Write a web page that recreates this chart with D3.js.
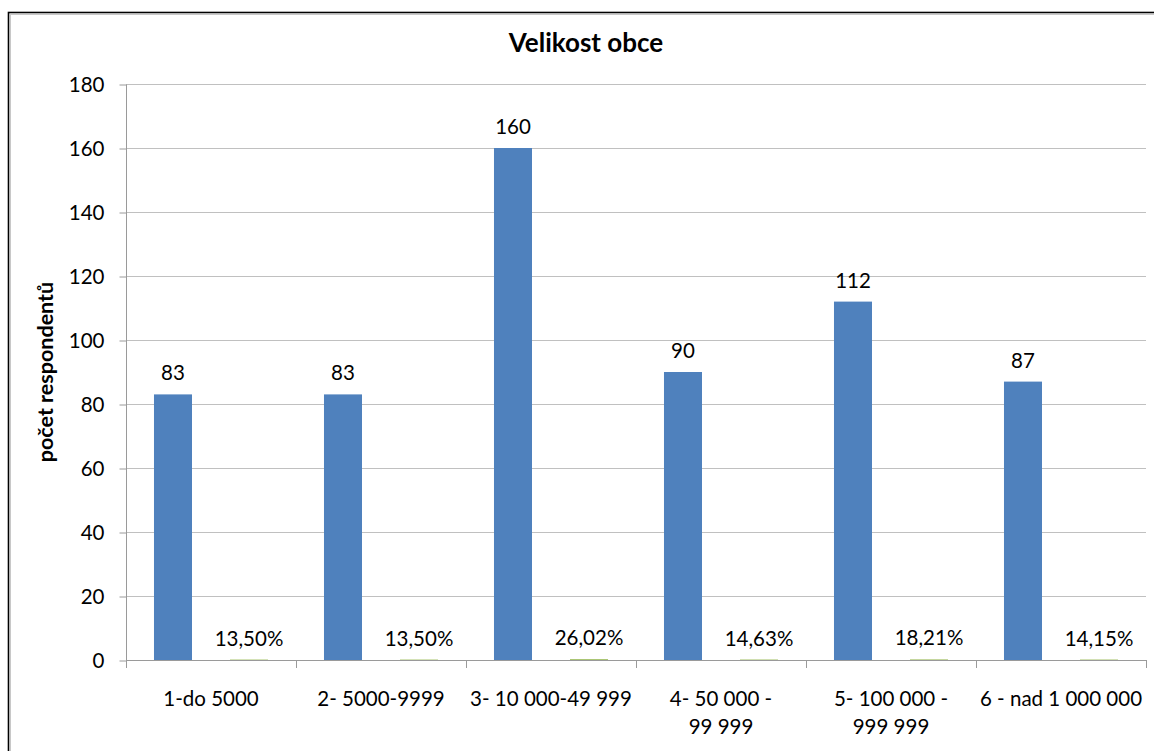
<!DOCTYPE html>
<html>
<head>
<meta charset="utf-8">
<script src="https://cdn.jsdelivr.net/npm/d3@7"></script>
<style>
  html, body { margin: 0; padding: 0; background: #fff; }
  svg { display: block; }
  text { font-family: Lato, Carlito, Calibri, "Noto Sans", sans-serif; fill: #000; }
</style>
</head>
<body>
<svg id="chart" width="1154" height="751"></svg>
<script>
const title = "Velikost obce";
const yLabel = "počet respondentů";
const categories = ["1-do 5000", "2- 5000-9999", "3- 10 000-49 999", "4- 50 000 -\n99 999", "5- 100 000 -\n999 999", "6 - nad 1 000 000"];
const counts = [83, 83, 160, 90, 112, 87];
const shares = [0.1350, 0.1350, 0.2602, 0.1463, 0.1821, 0.1415];
const yTicks = [0, 20, 40, 60, 80, 100, 120, 140, 160, 180];
const seriesKeys = ["count", "share"];

const svg = d3.select("#chart");
const plot = { left: 126, right: 1146, top: 84, bottom: 660 };
const fs = 20.5;

const x = d3.scaleBand().domain(categories).range([plot.left, plot.right]).padding(0);
const inner = d3.scaleBand().domain(seriesKeys).range([0, x.bandwidth()])
  .paddingInner(0.5).paddingOuter(0.368);
const y = d3.scaleLinear().domain([0, 180]).range([plot.bottom, plot.top]);

const locale = d3.formatLocale({ decimal: ",", thousands: " ", grouping: [3], currency: ["", " Kč"] });
const pctFmt = locale.format(".2%");

// chart border
svg.append("rect").attr("x", 8.5).attr("y", 12.5).attr("width", 1200).attr("height", 800)
  .attr("fill", "none").attr("stroke", "#000").attr("stroke-width", 1.6);
svg.append("rect").attr("x", 10.5).attr("y", 14.5).attr("width", 1200).attr("height", 800)
  .attr("fill", "none").attr("stroke", "#c8c8c8").attr("stroke-width", 1);

// gridlines
svg.append("g").selectAll("line").data(yTicks.filter(d => d > 0)).join("line")
  .attr("x1", plot.left).attr("x2", plot.right)
  .attr("y1", d => Math.round(y(d)) + 0.5).attr("y2", d => Math.round(y(d)) + 0.5)
  .attr("stroke", "#c0c0c0").attr("stroke-width", 1);

// y axis
const yAxis = svg.append("g").attr("transform", `translate(${plot.left + 0.5},0.5)`)
  .call(d3.axisLeft(y).tickValues(yTicks).tickSize(7).tickPadding(15).tickFormat(d3.format("d")));
yAxis.select(".domain").attr("stroke", "#9a9a9a").attr("d", `M0,${plot.top}V${plot.bottom}`);
yAxis.selectAll(".tick line").attr("stroke", "#9a9a9a");
yAxis.selectAll(".tick text").attr("font-size", fs).attr("font-family", "Lato, Carlito, Calibri, sans-serif").attr("fill", "#000");

// bars
const groups = svg.append("g").selectAll("g").data(categories).join("g")
  .attr("transform", d => `translate(${x(d)},0)`);
groups.append("rect")
  .attr("x", inner("count"))
  .attr("width", inner.bandwidth())
  .attr("y", (d, i) => y(counts[i]))
  .attr("height", (d, i) => y(0) - y(counts[i]))
  .attr("fill", "#4F81BD");
groups.append("rect")
  .attr("x", inner("share"))
  .attr("width", inner.bandwidth())
  .attr("y", (d, i) => y(shares[i]))
  .attr("height", (d, i) => y(0) - y(shares[i]))
  .attr("fill", "#9BBB59");

// value labels
groups.append("text")
  .attr("x", inner("count") + inner.bandwidth() / 2)
  .attr("y", (d, i) => y(counts[i]) - 14)
  .attr("text-anchor", "middle").attr("font-size", fs)
  .text((d, i) => counts[i]);
groups.append("text")
  .attr("x", inner("share") + inner.bandwidth() / 2)
  .attr("y", (d, i) => y(shares[i]) - 14)
  .attr("text-anchor", "middle").attr("font-size", fs)
  .text((d, i) => pctFmt(shares[i]));

// x axis line and ticks
const xg = svg.append("g");
xg.append("line").attr("x1", plot.left).attr("x2", plot.right)
  .attr("y1", plot.bottom + 0.5).attr("y2", plot.bottom + 0.5)
  .attr("stroke", "#9a9a9a");
const bounds = categories.map(c => x(c)).concat([x.range()[1]]);
xg.selectAll("line.tk").data(bounds).join("line").attr("class", "tk")
  .attr("x1", d => Math.round(d) + 0.5).attr("x2", d => Math.round(d) + 0.5)
  .attr("y1", plot.bottom).attr("y2", plot.bottom + 8)
  .attr("stroke", "#9a9a9a");
const lbl = xg.selectAll("text.cat").data(categories).join("text").attr("class", "cat")
  .attr("x", d => x(d) + x.bandwidth() / 2)
  .attr("y", 706)
  .attr("text-anchor", "middle").attr("font-size", fs);
lbl.selectAll("tspan").data(d => d.split("\n").map(s => ({ s, c: d }))).join("tspan")
  .attr("x", d => x(d.c) + x.bandwidth() / 2)
  .attr("dy", (d, i) => i === 0 ? 0 : 28)
  .text(d => d.s);

// title
svg.append("text").attr("x", 586).attr("y", 52).attr("text-anchor", "middle")
  .attr("font-size", 26).attr("font-weight", "bold").text(title);

// y label
svg.append("text").attr("transform", `translate(45,372) rotate(-90)`)
  .attr("dy", "0.35em").attr("text-anchor", "middle")
  .attr("font-size", 21.5).attr("font-weight", "bold").text(yLabel);
</script>
</body>
</html>
